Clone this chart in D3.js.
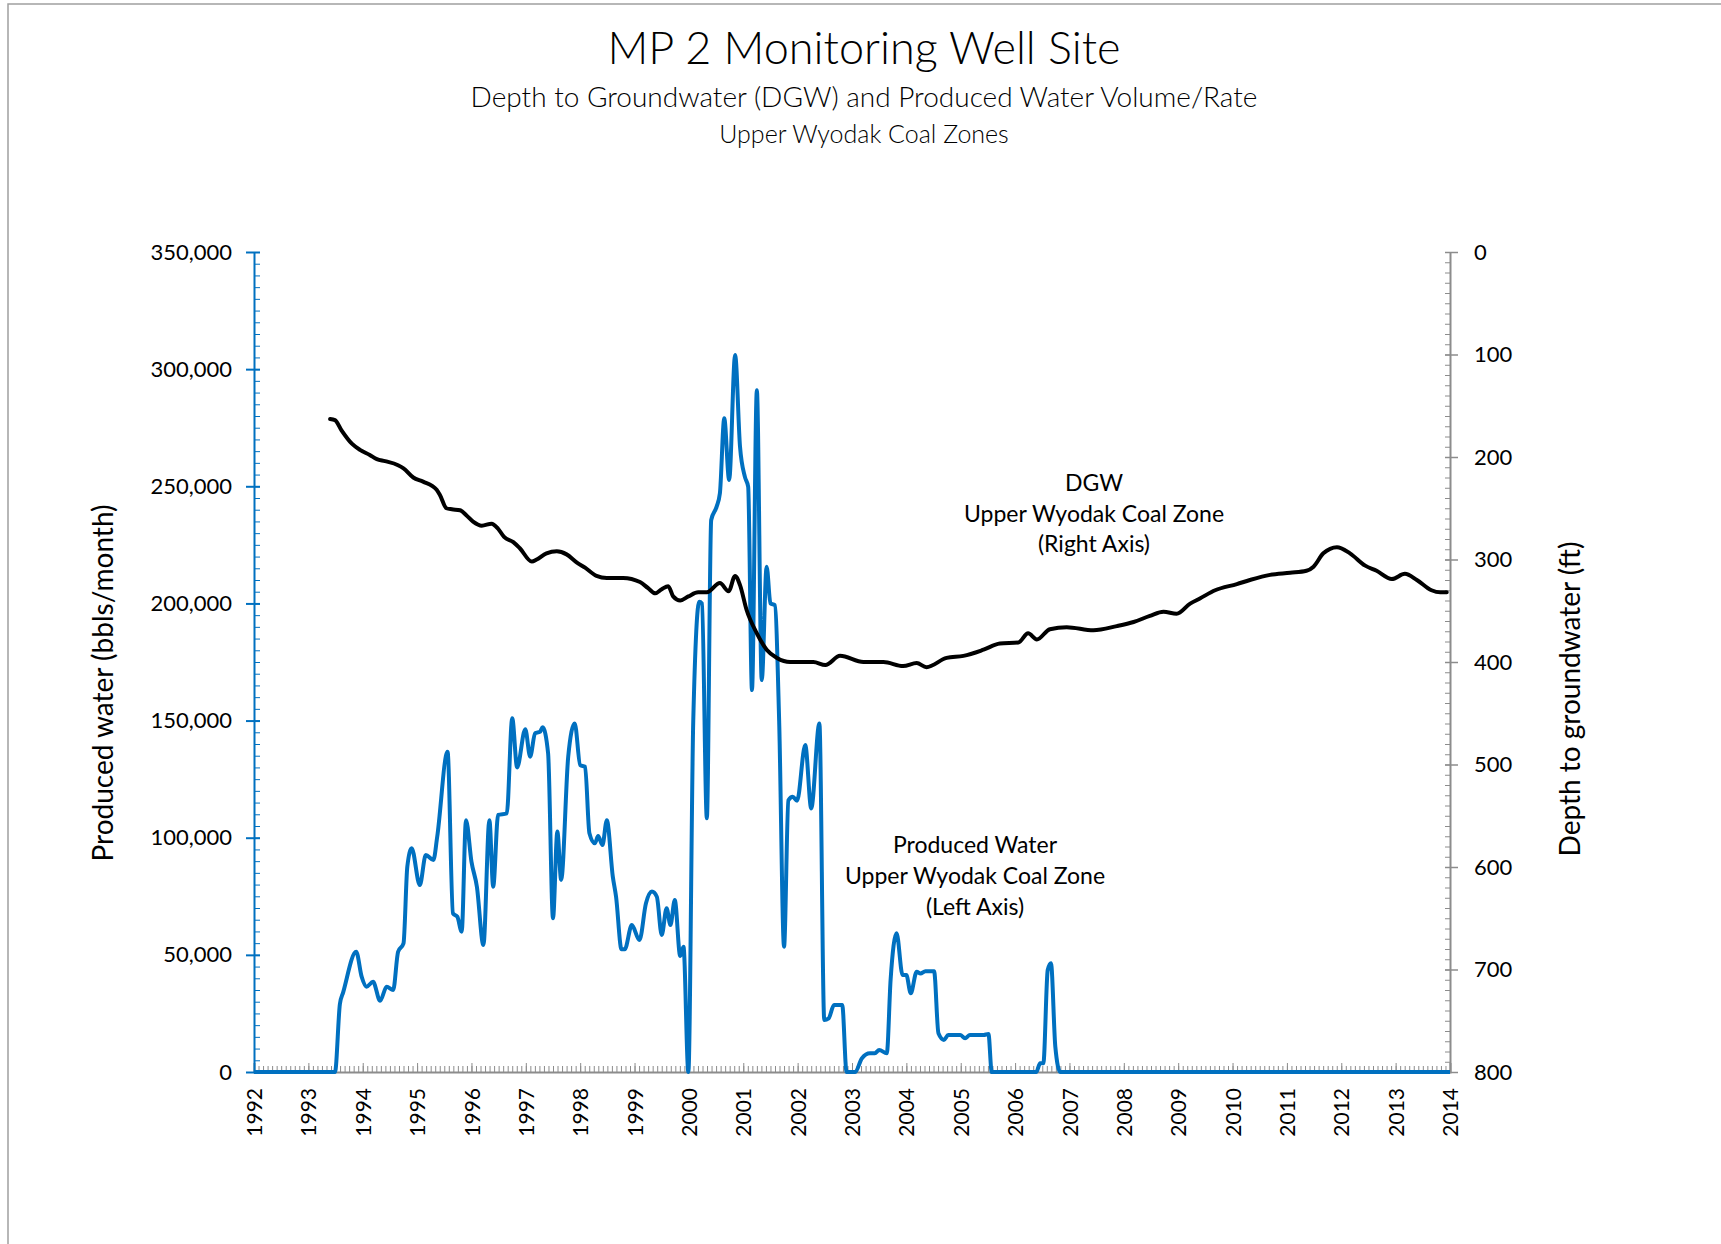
<!DOCTYPE html>
<html>
<head>
<meta charset="utf-8">
<script src="https://cdn.jsdelivr.net/npm/d3@7"></script>
<style>
  body { margin: 0; background: #fff; }
  text { font-family: Lato, "Open Sans", sans-serif; fill: #000; }
</style>
</head>
<body>
<div id="chart"></div>
<script>
// produced water, bbls/month (left axis)
var pwYear = [1992, 1993.49, 1993.58, 1993.64, 1993.88, 1993.98, 1994.07, 1994.19, 1994.32, 1994.44,
  1994.56, 1994.65, 1994.75, 1994.82, 1994.90, 1995.05, 1995.16, 1995.30, 1995.37, 1995.56,
  1995.66, 1995.74, 1995.82, 1995.90, 1996.00, 1996.10, 1996.22, 1996.33, 1996.40, 1996.49,
  1996.65, 1996.75, 1996.84, 1996.99, 1997.08, 1997.17, 1997.26, 1997.31, 1997.41, 1997.50,
  1997.58, 1997.65, 1997.78, 1997.90, 1998.00, 1998.09, 1998.17, 1998.27, 1998.33, 1998.41,
  1998.49, 1998.60, 1998.66, 1998.76, 1998.82, 1998.95, 1999.09, 1999.21, 1999.32, 1999.41,
  1999.50, 1999.59, 1999.66, 1999.74, 1999.84, 1999.90, 1999.99, 2000.08, 2000.19, 2000.24,
  2000.33, 2000.41, 2000.51, 2000.57, 2000.65, 2000.74, 2000.85, 2000.94, 2001.03, 2001.09,
  2001.16, 2001.25, 2001.34, 2001.43, 2001.50, 2001.58, 2001.66, 2001.75, 2001.83, 2001.91,
  2001.99, 2002.14, 2002.25, 2002.40, 2002.49, 2002.57, 2002.67, 2002.82, 2002.90, 2003.06,
  2003.18, 2003.33, 2003.42, 2003.50, 2003.64, 2003.71, 2003.82, 2003.93, 2004.00, 2004.08,
  2004.19, 2004.26, 2004.35, 2004.51, 2004.59, 2004.69, 2004.77, 2004.99, 2005.08, 2005.17,
  2005.42, 2005.51, 2005.57, 2006.39, 2006.46, 2006.52, 2006.60, 2006.66, 2006.74, 2006.83, 2014];
var pwValue = [0, 0, 29000, 34000, 51300, 40700, 36400, 38500, 30400, 36400,
  35000, 51300, 54900, 87600, 95500, 79800, 92600, 90500, 100400, 136700,
  67700, 66300, 59900, 107500, 89800, 79100, 54200, 107500, 79100, 109700,
  110400, 151000, 130000, 146300, 134600, 144600, 145200, 147100, 136000, 65600,
  102600, 82000, 134600, 148800, 131000, 130300, 101900, 97600, 100700, 96900,
  107500, 83400, 74800, 52400, 52400, 62700, 56300, 72000, 77000, 74800,
  58500, 69900, 62700, 73400, 49500, 53500, 0, 150000, 200700, 200000,
  108300, 235600, 241300, 247000, 279000, 252700, 306000, 266900, 254000, 249800,
  163000, 291000, 167300, 215700, 200000, 199300, 150000, 53500, 116000, 117500,
  115800, 139600, 112500, 148800, 22200, 22900, 28600, 28600, 0, 0,
  5800, 8000, 8000, 9400, 8000, 39300, 59200, 41400, 41400, 33600,
  42800, 42000, 43000, 43000, 16500, 13700, 15800, 15800, 14400, 15800,
  15800, 16200, 0, 0, 3700, 3700, 43500, 46400, 10800, 0, 0];

// depth to groundwater, ft (right axis)
var dgwYear = [1993.40, 1993.49, 1993.61, 1993.80, 1993.95, 1994.13, 1994.26, 1994.41, 1994.65, 1994.75,
  1994.93, 1995.11, 1995.36, 1995.42, 1995.54, 1995.64, 1995.79, 1995.91, 1996.03, 1996.19,
  1996.37, 1996.49, 1996.60, 1996.77, 1996.89, 1997.11, 1997.20, 1997.38, 1997.57, 1997.75,
  1997.94, 1998.09, 1998.30, 1998.49, 1998.79, 1999.10, 1999.25, 1999.38, 1999.50, 1999.62,
  1999.71, 1999.84, 1999.99, 2000.17, 2000.33, 2000.57, 2000.73, 2000.85, 2000.94, 2001.06,
  2001.25, 2001.43, 2001.62, 2001.86, 2002.04, 2002.29, 2002.51, 2002.78, 2003.21, 2003.58,
  2003.94, 2004.19, 2004.37, 2004.74, 2005.05, 2005.42, 2005.72, 2006.06, 2006.24, 2006.40,
  2006.64, 2006.95, 2007.44, 2007.87, 2008.18, 2008.48, 2008.73, 2008.97, 2009.22, 2009.40,
  2009.68, 2010.08, 2010.32, 2010.69, 2011.06, 2011.36, 2011.49, 2011.67, 2011.92, 2012.16,
  2012.44, 2012.65, 2012.93, 2013.17, 2013.39, 2013.66, 2013.82, 2013.94];
var dgwDepth = [163, 164, 174, 187, 193, 198, 202, 204, 208, 211,
  220, 224, 232, 237, 250, 251, 252, 257, 263, 267,
  265, 270, 278, 283, 289, 302, 300, 294, 292, 295,
  303, 308, 316, 318, 318, 322, 328, 333, 329, 326,
  336, 340, 336, 332, 332, 323, 331, 316, 325, 349,
  372, 388, 396, 400, 400, 400, 403, 394, 400, 400,
  404, 401, 405, 396, 394, 388, 382, 381, 372, 378,
  368, 366, 369, 365, 361, 355, 351, 353, 343, 338,
  330, 324, 320, 315, 313, 311, 307, 294, 288, 294,
  306, 311, 319, 314, 320, 330, 332, 332];

var leftTicks = d3.range(0, 350001, 50000);
var rightTicks = d3.range(0, 801, 100);
var yearTicks = d3.range(1992, 2015, 1);

var W = 1721, H = 1244;
var blue = "#0070C0", grey = "#8c8c8c";

var svg = d3.select("#chart").append("svg")
    .attr("width", W)
    .attr("height", H);

// outer border (top + left only are visible in the frame)
svg.append("path")
    .attr("d", "M8," + H + "V4H" + W)
    .attr("fill", "none")
    .attr("stroke", "#a0a0a0")
    .attr("stroke-width", 1.5);

var x = d3.scaleLinear().domain([1992, 2014]).range([254, 1450]);
var yL = d3.scaleLinear().domain([0, 350000]).range([1072, 252]);
var yR = d3.scaleLinear().domain([0, 800]).range([252, 1072]);

// titles
svg.append("text").attr("x", 864).attr("y", 64).attr("text-anchor", "middle")
    .style("font-size", "45px").style("font-weight", 300).text("MP 2 Monitoring Well Site");
svg.append("text").attr("x", 864).attr("y", 107).attr("text-anchor", "middle")
    .style("font-size", "28px").style("font-weight", 300)
    .text("Depth to Groundwater (DGW) and Produced Water Volume/Rate");
svg.append("text").attr("x", 864).attr("y", 143).attr("text-anchor", "middle")
    .style("font-size", "25px").style("font-weight", 300).text("Upper Wyodak Coal Zones");

// x axis: monthly minor ticks pointing up, year ticks a bit taller
var xAxisY = 1072;
var months = d3.range(0, 22 * 12 + 1).map(function (i) { return 1992 + i / 12; });
svg.append("g").attr("transform", "translate(0," + xAxisY + ")")
    .call(d3.axisTop(x).tickValues(months).tickSize(6).tickFormat(""))
    .call(function (g) { g.selectAll("line").attr("stroke", grey); g.select(".domain").remove(); });
svg.append("g").attr("transform", "translate(0," + xAxisY + ")")
    .call(d3.axisTop(x).tickValues(yearTicks).tickSize(9).tickFormat(""))
    .call(function (g) { g.selectAll("line").attr("stroke", grey); g.select(".domain").attr("stroke", grey).attr("stroke-width", 2); });
var xl = svg.append("g").attr("transform", "translate(0," + xAxisY + ")")
    .call(d3.axisBottom(x).tickValues(yearTicks).tickSize(0).tickFormat(d3.format("d")));
xl.select(".domain").remove();
xl.selectAll("text")
    .attr("transform", "rotate(-90)")
    .attr("x", -16).attr("y", 0).attr("dy", "0.36em")
    .attr("text-anchor", "end")
    .style("font-size", "21px");

// left axis (blue)
svg.append("g").attr("transform", "translate(254,0)")
    .call(d3.axisRight(yL).tickValues(d3.range(0, 350001, 5000)).tickSize(6).tickFormat(""))
    .call(function (g) { g.selectAll("line").attr("stroke", blue); g.select(".domain").remove(); });
var la = svg.append("g").attr("transform", "translate(254,0)")
    .call(d3.axisLeft(yL).tickValues(leftTicks).tickSize(8).tickSizeOuter(0).tickPadding(14).tickFormat(d3.format(",")));
la.select(".domain").attr("stroke", blue).attr("stroke-width", 2);
la.selectAll("line").attr("stroke", blue).attr("stroke-width", 2);
la.selectAll("text").style("font-size", "22px");
svg.append("g").attr("transform", "translate(254,0)")
    .call(d3.axisRight(yL).tickValues(leftTicks).tickSize(6).tickFormat(""))
    .call(function (g) { g.selectAll("line").attr("stroke", blue).attr("stroke-width", 2); g.select(".domain").remove(); });

// right axis (grey)
svg.append("g").attr("transform", "translate(1450,0)")
    .call(d3.axisLeft(yR).tickValues(d3.range(0, 801, 10)).tickSize(5).tickFormat(""))
    .call(function (g) { g.selectAll("line").attr("stroke", grey); g.select(".domain").remove(); });
var ra = svg.append("g").attr("transform", "translate(1450,0)")
    .call(d3.axisRight(yR).tickValues(rightTicks).tickSize(8).tickSizeOuter(0).tickPadding(16));
ra.select(".domain").attr("stroke", grey).attr("stroke-width", 2);
ra.selectAll("line").attr("stroke", grey).attr("stroke-width", 1.5);
ra.selectAll("text").style("font-size", "22px");
svg.append("g").attr("transform", "translate(1450,0)")
    .call(d3.axisLeft(yR).tickValues(rightTicks).tickSize(5).tickFormat(""))
    .call(function (g) { g.selectAll("line").attr("stroke", grey).attr("stroke-width", 1.5); g.select(".domain").remove(); });

// axis titles
svg.append("text").attr("transform", "translate(113,683) rotate(-90)")
    .attr("text-anchor", "middle").style("font-size", "28px").text("Produced water (bbls/month)");
svg.append("text").attr("transform", "translate(1580,699) rotate(-90)")
    .attr("text-anchor", "middle").style("font-size", "28px").text("Depth to groundwater (ft)");

// series
var pwLine = d3.line()
    .x(function (d, i) { return x(pwYear[i]); })
    .y(function (d) { return yL(d); })
    .curve(d3.curveMonotoneX);
svg.append("path").datum(pwValue)
    .attr("d", pwLine)
    .attr("fill", "none").attr("stroke", blue).attr("stroke-width", 4)
    .attr("stroke-linejoin", "round");

var dgwLine = d3.line()
    .x(function (d, i) { return x(dgwYear[i]); })
    .y(function (d) { return yR(d); })
    .curve(d3.curveMonotoneX);
svg.append("path").datum(dgwDepth)
    .attr("d", dgwLine)
    .attr("fill", "none").attr("stroke", "#000").attr("stroke-width", 4)
    .attr("stroke-linejoin", "round").attr("stroke-linecap", "round");

// annotations
function note(cx, ys, lines) {
    lines.forEach(function (t, i) {
        svg.append("text").attr("x", cx).attr("y", ys[i]).attr("text-anchor", "middle")
            .attr("dy", "0.35em").style("font-size", "23px").text(t);
    });
}
note(1094, [483, 514, 544], ["DGW", "Upper Wyodak Coal Zone", "(Right Axis)"]);
note(975, [845, 876, 907], ["Produced Water", "Upper Wyodak Coal Zone", "(Left Axis)"]);
</script>
</body>
</html>
